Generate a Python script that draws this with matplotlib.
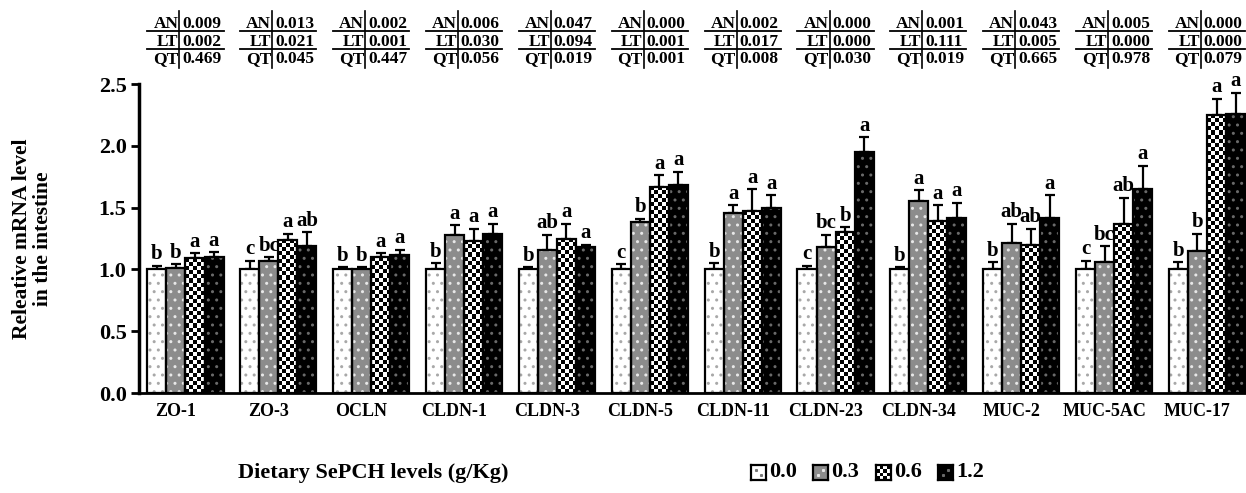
import numpy as np
import matplotlib
matplotlib.use("Agg")
import matplotlib.pyplot as plt
from matplotlib.transforms import blended_transform_factory

plt.rcParams["font.family"] = ["Liberation Serif", "DejaVu Serif"]
plt.rcParams["font.weight"] = "bold"
plt.rcParams["hatch.linewidth"] = 1.0

# ---------- data ----------
genes = ["ZO-1", "ZO-3", "OCLN", "CLDN-1", "CLDN-3", "CLDN-5", "CLDN-11",
         "CLDN-23", "CLDN-34", "MUC-2", "MUC-5AC", "MUC-17"]
levels = ["0.0", "0.3", "0.6", "1.2"]

mean_00 = [1.00, 1.00, 1.00, 1.00, 1.00, 1.00, 1.00, 1.00, 1.00, 1.00, 1.00, 1.00]
mean_03 = [1.01, 1.07, 1.00, 1.28, 1.16, 1.38, 1.46, 1.18, 1.55, 1.21, 1.06, 1.15]
mean_06 = [1.09, 1.24, 1.10, 1.23, 1.25, 1.67, 1.47, 1.30, 1.39, 1.20, 1.37, 2.25]
mean_12 = [1.10, 1.19, 1.12, 1.29, 1.18, 1.68, 1.50, 1.95, 1.42, 1.42, 1.65, 2.26]

sem_00 = [0.03, 0.07, 0.02, 0.05, 0.02, 0.04, 0.05, 0.03, 0.02, 0.06, 0.07, 0.06]
sem_03 = [0.03, 0.03, 0.02, 0.08, 0.12, 0.03, 0.06, 0.10, 0.09, 0.16, 0.13, 0.14]
sem_06 = [0.04, 0.05, 0.03, 0.10, 0.12, 0.09, 0.18, 0.04, 0.13, 0.13, 0.21, 0.13]
sem_12 = [0.04, 0.11, 0.04, 0.08, 0.02, 0.11, 0.10, 0.12, 0.12, 0.18, 0.19, 0.17]

let_00 = ["b", "c", "b", "b", "b", "c", "b", "c", "b", "b", "c", "b"]
let_03 = ["b", "bc", "b", "a", "ab", "b", "a", "bc", "a", "ab", "bc", "b"]
let_06 = ["a", "a", "a", "a", "a", "a", "a", "b", "a", "ab", "ab", "a"]
let_12 = ["a", "ab", "a", "a", "a", "a", "a", "a", "a", "a", "a", "a"]

p_an = ["0.009", "0.013", "0.002", "0.006", "0.047", "0.000", "0.002", "0.000", "0.001", "0.043", "0.005", "0.000"]
p_lt = ["0.002", "0.021", "0.001", "0.030", "0.094", "0.001", "0.017", "0.000", "0.111", "0.005", "0.000", "0.000"]
p_qt = ["0.469", "0.045", "0.447", "0.056", "0.019", "0.001", "0.008", "0.030", "0.019", "0.665", "0.978", "0.079"]

means = [mean_00, mean_03, mean_06, mean_12]
sems = [sem_00, sem_03, sem_06, sem_12]
letters = [let_00, let_03, let_06, let_12]

# ---------- styles per level: (face, hatch, hatch colour, checker) ----------
STYLES = [
    ("white",   "..", "#a8a8a8", False),
    ("#8c8c8c", "..", "#e8e8e8", False),
    ("white",   None, None,      True),
    ("black",   "..", "#6a6a6a", False),
]

fig = plt.figure(figsize=(12.46, 4.93), dpi=100)
ax = fig.add_axes([0.1116, 0.2028, 0.8884, 0.6268])

x = np.arange(len(genes))
bw = 0.205


def checker(a, x0, y0, w, h, ncol, cell_h, zorder=2.2):
    nrow = max(1, int(round(h / cell_h)))
    arr = (np.add.outer(np.arange(nrow), np.arange(ncol)) % 2).astype(float)
    a.imshow(arr, extent=(x0, x0 + w, y0, y0 + h), cmap="gray", vmin=0, vmax=1,
             interpolation="nearest", aspect="auto", origin="lower", zorder=zorder)


for i, (m, s, lt, st) in enumerate(zip(means, sems, letters, STYLES)):
    face, hatch, hcol, chk = st
    xs = x + (i - 1.5) * bw
    bars = ax.bar(xs, m, bw, color=face, edgecolor="none", zorder=2)
    if hatch:
        ax.bar(xs, m, bw, color="none", edgecolor=hcol, hatch=hatch,
               linewidth=0, zorder=2.3)
    if chk:
        for b in bars:
            checker(ax, b.get_x(), 0, b.get_width(), b.get_height(), 5, 0.033)
    ax.bar(xs, m, bw, color="none", edgecolor="black", linewidth=1.6, zorder=3)
    ax.errorbar(xs, m, yerr=[np.zeros(len(m)), s], fmt="none", ecolor="black",
                elinewidth=1.6, capsize=3.5, capthick=1.6, zorder=1.8)
    for xi, mi, si, li in zip(xs, m, s, lt):
        ax.annotate(li, (xi, mi + si), xytext=(0, 1), textcoords="offset points",
                    ha="center", va="bottom", fontsize=15, fontweight="bold")

ax.set_xlim(-0.5, 11.42)
ax.set_ylim(0, 2.5)
ax.set_yticks(np.arange(0, 2.51, 0.5))
ax.set_yticklabels([f"{v:.1f}" for v in np.arange(0, 2.51, 0.5)],
                   fontsize=16, fontweight="bold")
# category labels sit a little left of the group centres, as in the original
ax.set_xticks(x - 0.105)
ax.set_xticklabels(genes, fontsize=13, fontweight="bold")
ax.tick_params(axis="x", length=0, pad=7)
ax.tick_params(axis="y", length=6, width=2, direction="out", pad=3)
for side in ("top", "right"):
    ax.spines[side].set_visible(False)
ax.spines["left"].set_linewidth(2.5)
ax.spines["bottom"].set_linewidth(2)

fig.text(0.026, 0.516, "Releative mRNA level\nin the intestine", rotation=90,
         ha="center", va="center", multialignment="center",
         fontsize=15.5, fontweight="bold", linespacing=1.1)

# ---------- p-value tables ----------
tr = blended_transform_factory(ax.transData, fig.transFigure)
H = 493.0
row_base = [28, 45.5, 63]
row_names = ["AN", "LT", "QT"]
for gi, xc in enumerate(x):
    left = xc - 2 * bw
    right = xc + 2 * bw
    div = xc - 0.065
    ax.plot([div, div], [1 - 11 / H, 1 - 68 / H], color="black", lw=1.2,
            transform=tr, clip_on=False)
    for yl in (31, 49):
        ax.plot([left, right], [1 - yl / H, 1 - yl / H], color="black", lw=1.3,
                transform=tr, clip_on=False)
    vals = [p_an[gi], p_lt[gi], p_qt[gi]]
    for name, v, yb in zip(row_names, vals, row_base):
        ax.text(div - 0.012, 1 - yb / H, name, ha="right", va="baseline",
                fontsize=12.5, fontweight="bold", transform=tr)
        ax.text(div + 0.03, 1 - yb / H, v, ha="left", va="baseline",
                fontsize=12.5, fontweight="bold", transform=tr)

# ---------- x label and legend ----------
fig.text(373 / 1246, 1 - 473 / H, "Dietary SePCH levels (g/Kg)",
         ha="center", va="center", fontsize=16, fontweight="bold")

sw, sh = 15 / 1246, 15 / H
leg_x = [751, 813, 876, 938]
for (face, hatch, hcol, chk), lvl, lx in zip(STYLES, levels, leg_x):
    lax = fig.add_axes([lx / 1246, 1 - 480 / H, sw, sh])
    lax.set_xlim(0, 1)
    lax.set_ylim(0, 1)
    lax.set_facecolor(face)
    if chk:
        checker(lax, 0, 0, 1, 1, 4, 0.25)
        lax.set_xlim(0, 1)
        lax.set_ylim(0, 1)
    elif face != "white":
        lax.plot([0.35, 0.65], [0.35, 0.65], marker="s", ms=1.2, color=hcol, ls="none")
    else:
        lax.plot([0.35, 0.65], [0.65, 0.35], marker="s", ms=1.2, color="#777777", ls="none")
    lax.set_xticks([])
    lax.set_yticks([])
    for sp in lax.spines.values():
        sp.set_linewidth(1.6)
    fig.text((lx + 18) / 1246, 1 - 472 / H, lvl, ha="left", va="center",
             fontsize=16, fontweight="bold")

fig.savefig("out.png", dpi=100)
